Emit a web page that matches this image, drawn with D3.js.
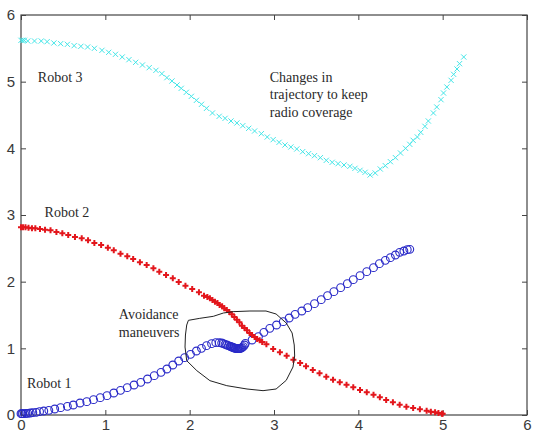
<html>

<head>
  <script src="https://d3js.org/d3.v7.min.js"></script>
  <style>
    body {
      margin: 0;
      background: #fff;
    }

    .axis text {
      font-family: "Liberation Sans", Arial, sans-serif;
      font-size: 15px;
      fill: #3a3a3a;
    }

    .axis line {
      stroke: #444;
    }

    .axis .domain {
      stroke: none;
    }

    .note {
      font-family: "Liberation Serif", "Times New Roman", serif;
      font-size: 14px;
      fill: #2a2a2a;
    }
  </style>
</head>

<body>
  <svg id="chart" width="533" height="434"></svg>
  <script>
    // values, [x, y]
    const robot1 = [
      [0.00, 0.02], [0.01, 0.02], [0.02, 0.02], [0.04, 0.02], [0.06, 0.025], [0.08, 0.025], [0.11, 0.03],
      [0.14, 0.035], [0.18, 0.04], [0.22, 0.05], [0.27, 0.06], [0.33, 0.07], [0.40, 0.09], [0.47, 0.11],
      [0.55, 0.13], [0.62, 0.15], [0.70, 0.18], [0.78, 0.20], [0.86, 0.23], [0.94, 0.26], [1.02, 0.29],
      [1.10, 0.33], [1.18, 0.37], [1.26, 0.41], [1.34, 0.45], [1.42, 0.49], [1.50, 0.54], [1.58, 0.59],
      [1.66, 0.64], [1.73, 0.69], [1.80, 0.75], [1.87, 0.81], [1.94, 0.86], [2.01, 0.91], [2.08, 0.96],
      [2.14, 1.00], [2.20, 1.04], [2.26, 1.07], [2.31, 1.085], [2.35, 1.085], [2.38, 1.08], [2.40, 1.07],
      [2.42, 1.06], [2.44, 1.05], [2.46, 1.04], [2.48, 1.03], [2.49, 1.025], [2.50, 1.02], [2.51, 1.015],
      [2.52, 1.01], [2.53, 1.005], [2.54, 1.0], [2.55, 0.998], [2.56, 0.995], [2.57, 0.995], [2.58, 0.995],
      [2.59, 0.995], [2.60, 0.998], [2.61, 1.003], [2.62, 1.01], [2.635, 1.025], [2.65, 1.05], [2.66, 1.075],
      [2.74, 1.125], [2.815, 1.175], [2.88, 1.24], [2.95, 1.30], [3.03, 1.35],
      [3.11, 1.40], [3.18, 1.455], [3.25, 1.51], [3.33, 1.56], [3.40, 1.61], [3.48, 1.67], [3.56, 1.73],
      [3.635, 1.79], [3.71, 1.85], [3.79, 1.91], [3.87, 1.97], [3.94, 2.03], [4.02, 2.09], [4.10, 2.15],
      [4.18, 2.21], [4.25, 2.27], [4.32, 2.32], [4.38, 2.36], [4.44, 2.40], [4.49, 2.44], [4.54, 2.46],
      [4.58, 2.48], [4.61, 2.485]
    ];

    const robot2 = [
      [0.00, 2.815], [0.024, 2.815], [0.053, 2.815], [0.089, 2.81], [0.13, 2.80], [0.17, 2.80], [0.225, 2.79],
      [0.285, 2.78], [0.35, 2.77], [0.42, 2.745], [0.49, 2.725], [0.56, 2.70], [0.64, 2.67], [0.72, 2.65],
      [0.795, 2.62], [0.87, 2.58], [0.95, 2.55], [1.03, 2.51], [1.10, 2.47], [1.18, 2.42], [1.26, 2.38],
      [1.33, 2.34], [1.41, 2.29], [1.49, 2.25], [1.57, 2.20], [1.64, 2.15], [1.72, 2.10], [1.80, 2.05],
      [1.87, 1.995], [1.95, 1.94], [2.03, 1.89], [2.11, 1.84], [2.17, 1.79], [2.21, 1.77], [2.24, 1.75],
      [2.27, 1.725], [2.30, 1.70], [2.33, 1.68], [2.355, 1.65], [2.385, 1.63], [2.41, 1.60], [2.44, 1.575],
      [2.47, 1.545], [2.50, 1.51], [2.53, 1.47], [2.56, 1.43], [2.59, 1.39], [2.62, 1.34], [2.65, 1.305],
      [2.68, 1.27], [2.71, 1.23], [2.74, 1.20], [2.77, 1.17], [2.80, 1.14], [2.83, 1.12], [2.86, 1.095],
      [2.91, 1.06], [2.99, 0.99], [3.07, 0.94], [3.15, 0.89], [3.23, 0.83], [3.31, 0.78], [3.38, 0.73],
      [3.46, 0.675], [3.54, 0.625], [3.62, 0.575], [3.70, 0.53], [3.78, 0.49], [3.86, 0.455], [3.94, 0.415],
      [4.02, 0.375], [4.10, 0.34], [4.18, 0.305], [4.255, 0.265], [4.33, 0.225], [4.41, 0.19], [4.49, 0.155],
      [4.57, 0.125], [4.65, 0.105], [4.73, 0.085], [4.81, 0.065], [4.86, 0.05], [4.91, 0.04], [4.95, 0.03],
      [4.99, 0.02], [5.00, 0.02]
    ];

    const robot3 = [
      [0.00, 5.62], [0.02, 5.62], [0.04, 5.62], [0.08, 5.61], [0.16, 5.61], [0.24, 5.61], [0.31, 5.60],
      [0.39, 5.58], [0.47, 5.57], [0.55, 5.56], [0.63, 5.54], [0.71, 5.53], [0.79, 5.52], [0.87, 5.50],
      [0.96, 5.47], [1.04, 5.44], [1.12, 5.41], [1.20, 5.37], [1.28, 5.33], [1.36, 5.29], [1.44, 5.25],
      [1.52, 5.21], [1.60, 5.17], [1.67, 5.12], [1.73, 5.06], [1.79, 5.01], [1.85, 4.95], [1.90, 4.90],
      [1.96, 4.84], [2.02, 4.78], [2.08, 4.72], [2.14, 4.66], [2.20, 4.60], [2.27, 4.53], [2.35, 4.48],
      [2.42, 4.45], [2.49, 4.41], [2.56, 4.38], [2.63, 4.34], [2.70, 4.30], [2.77, 4.26], [2.85, 4.22],
      [2.92, 4.17], [2.99, 4.13], [3.06, 4.09], [3.13, 4.05], [3.20, 4.02], [3.27, 3.99], [3.34, 3.95],
      [3.41, 3.92], [3.48, 3.89], [3.55, 3.86], [3.62, 3.82], [3.69, 3.79], [3.76, 3.77], [3.83, 3.75],
      [3.90, 3.73], [3.96, 3.70], [4.02, 3.67], [4.08, 3.64], [4.14, 3.60], [4.20, 3.63], [4.26, 3.69],
      [4.32, 3.74], [4.38, 3.80], [4.44, 3.86], [4.50, 3.93], [4.56, 4.00], [4.61, 4.06], [4.65, 4.12],
      [4.70, 4.17], [4.74, 4.24], [4.79, 4.33], [4.83, 4.41], [4.89, 4.53], [4.93, 4.62], [4.98, 4.73],
      [5.01, 4.83], [5.05, 4.92], [5.10, 5.02], [5.13, 5.11], [5.17, 5.19], [5.20, 5.27], [5.25, 5.37]
    ];

    // hand drawn outline round the avoidance zone
    const boundary = [
      [1.985, 1.42], [2.12, 1.45], [2.28, 1.48], [2.40, 1.53], [2.515, 1.55], [2.715, 1.56], [2.905, 1.56],
      [3.025, 1.515], [3.145, 1.38], [3.215, 1.23], [3.24, 1.05], [3.245, 0.885], [3.225, 0.72], [3.145, 0.52],
      [3.025, 0.39], [2.87, 0.365], [2.68, 0.39], [2.44, 0.44], [2.24, 0.515], [2.085, 0.665], [1.965, 0.815],
      [1.945, 1.02], [1.95, 1.20], [1.965, 1.35]
    ];

    const xTicks = [0, 1, 2, 3, 4, 5, 6];
    const yTicks = [0, 1, 2, 3, 4, 5, 6];

    const svg = d3.select('#chart');
    const width = +svg.attr("width");
    const height = +svg.attr("height");
    const margin = { top: 15, right: 6, bottom: 19, left: 21 };

    const xScale = d3.scaleLinear().domain([0, 6]).range([margin.left, width - margin.right]);
    const yScale = d3.scaleLinear().domain([0, 6]).range([height - margin.bottom, margin.top]);

    const annotations = svg.append("g").attr("id", "annotations");

    annotations.append("g")
      .attr("class", "axis")
      .attr("transform", `translate(0,${yScale(0)})`)
      .call(d3.axisBottom(xScale).tickValues(xTicks).tickFormat(d => d)
        .tickSizeInner(-5).tickSizeOuter(0).tickPadding(4));
    annotations.append("g")
      .attr("class", "axis")
      .attr("transform", `translate(0,${yScale(6)})`)
      .call(d3.axisTop(xScale).tickValues(xTicks).tickSizeInner(-5).tickSizeOuter(0).tickFormat(""));
    annotations.append("g")
      .attr("class", "axis")
      .attr("transform", `translate(${xScale(0)},0)`)
      .call(d3.axisLeft(yScale).tickValues(yTicks).tickFormat(d => d)
        .tickSizeInner(-5).tickSizeOuter(0).tickPadding(6));
    annotations.append("g")
      .attr("class", "axis")
      .attr("transform", `translate(${xScale(6)},0)`)
      .call(d3.axisRight(yScale).tickValues(yTicks).tickSizeInner(-5).tickSizeOuter(0).tickFormat(""));

    annotations.append("rect")
      .attr("x", xScale(0))
      .attr("y", yScale(6))
      .attr("width", xScale(6) - xScale(0))
      .attr("height", yScale(0) - yScale(6))
      .style("fill", "none")
      .style("stroke", "#444")
      .style("stroke-width", 1.2);

    const chartArea = svg.append("g").attr("id", "points");

    chartArea.selectAll("circle.r1").data(robot1)
      .join("circle")
      .attr("class", "r1")
      .attr("cx", d => xScale(d[0]))
      .attr("cy", d => yScale(d[1]))
      .attr("r", 3.9)
      .style("fill", "none")
      .style("stroke", "#2a2ac8")
      .style("stroke-width", 1.1);

    chartArea.selectAll("path.r2").data(robot2)
      .join("path")
      .attr("class", "r2")
      .attr("transform", d => `translate(${xScale(d[0])},${yScale(d[1])})`)
      .attr("d", d3.symbol(d3.symbolCross, 20))
      .style("fill", "#e3161c");

    chartArea.selectAll("path.r3").data(robot3)
      .join("path")
      .attr("class", "r3")
      .attr("transform", d => `translate(${xScale(d[0])},${yScale(d[1])})`)
      .attr("d", "M-2.6,-2.6L2.6,2.6M-2.6,2.6L2.6,-2.6")
      .style("fill", "none")
      .style("stroke", "#45e6e8")
      .style("stroke-width", 1);

    const outline = d3.line()
      .x(d => xScale(d[0]))
      .y(d => yScale(d[1]))
      .curve(d3.curveLinearClosed);
    chartArea.append("path")
      .attr("d", outline(boundary))
      .style("fill", "none")
      .style("stroke", "#222")
      .style("stroke-width", 1);

    const notes = [
      { lines: ["Robot 3"], x: 0.2, y: 5.0 },
      { lines: ["Robot 2"], x: 0.28, y: 2.97 },
      { lines: ["Robot 1"], x: 0.07, y: 0.40 },
      { lines: ["Avoidance", "maneuvers"], x: 1.16, y: 1.435 },
      { lines: ["Changes in", "trajectory to keep", "radio coverage"], x: 2.95, y: 4.995 }
    ];
    notes.forEach(n => {
      const t = annotations.append("text")
        .attr("class", "note")
        .attr("x", xScale(n.x))
        .attr("y", yScale(n.y));
      n.lines.forEach((line, i) => {
        t.append("tspan")
          .attr("x", xScale(n.x))
          .attr("dy", i === 0 ? 0 : 17.4)
          .text(line);
      });
    });
  </script>
</body>

</html>
